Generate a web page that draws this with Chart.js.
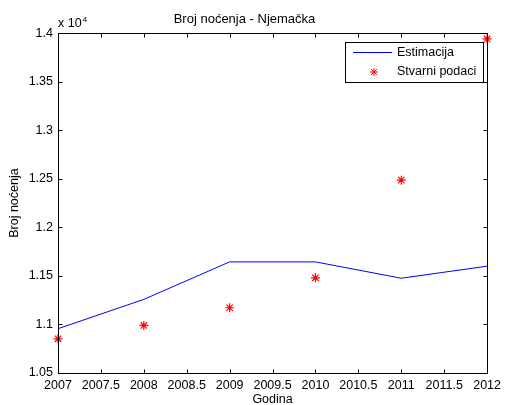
<!DOCTYPE html>
<html>
<head>
<meta charset="utf-8">
<script src="https://cdn.jsdelivr.net/npm/chart.js@4/dist/chart.umd.min.js"></script>
<style>
  body { margin: 0; background: #fff; }
  #wrap { width: 506px; height: 405px; }
</style>
</head>
<body>
<div id="wrap"><canvas id="chart" width="506" height="405"></canvas></div>
<script>
const years = [2007, 2008, 2009, 2010, 2011, 2012];
const estimacija = [10956, 11258, 11644, 11644, 11476, 11600];
const stvarni = [10852, 10990, 11172, 11480, 12486, 13940];
const xTicks = [2007, 2007.5, 2008, 2008.5, 2009, 2009.5, 2010, 2010.5, 2011, 2011.5, 2012];
const yTicks = [10500, 11000, 11500, 12000, 12500, 13000, 13500, 14000];

const FONT = "'Liberation Sans', Arial, sans-serif";
const FS = 12.5;

// MATLAB style box, inward ticks, exponent label and legend
const matlabAxes = {
  id: "matlabAxes",
  afterDraw(chart) {
    const ctx = chart.ctx;
    const a = chart.chartArea;
    const xs = chart.scales.x, ys = chart.scales.y;
    const L = Math.round(a.left) + 0.5, R = Math.round(a.right) + 0.5;
    const T = Math.round(a.top) + 0.5, B = Math.round(a.bottom) + 0.5;
    ctx.save();
    ctx.strokeStyle = "#000";
    ctx.lineWidth = 1;
    ctx.strokeRect(L, T, R - L, B - T);
    ctx.beginPath();
    xTicks.forEach(v => {
      const px = Math.round(xs.getPixelForValue(v)) + 0.5;
      ctx.moveTo(px, B); ctx.lineTo(px, B - 4);
      ctx.moveTo(px, T); ctx.lineTo(px, T + 4);
    });
    yTicks.forEach(v => {
      const py = Math.round(ys.getPixelForValue(v)) + 0.5;
      ctx.moveTo(L, py); ctx.lineTo(L + 4, py);
      ctx.moveTo(R, py); ctx.lineTo(R - 4, py);
    });
    ctx.stroke();

    // x 10^4
    ctx.fillStyle = "#000";
    ctx.textBaseline = "alphabetic";
    ctx.textAlign = "left";
    ctx.font = FS + "px " + FONT;
    ctx.fillText("x 10", 58, 27);
    const w = ctx.measureText("x 10").width;
    ctx.font = "8px " + FONT;
    ctx.fillText("4", 58 + w + 1, 22);

    // legend
    const bx = 345.5, by = 42.5, bw = 138, bh = 40;
    ctx.fillStyle = "#fff";
    ctx.fillRect(bx, by, bw, bh);
    ctx.strokeStyle = "#000";
    ctx.strokeRect(bx, by, bw, bh);
    ctx.font = FS + "px " + FONT;
    ctx.textBaseline = "middle";
    const ds = chart.data.datasets;
    ctx.strokeStyle = ds[0].borderColor;
    ctx.beginPath();
    ctx.moveTo(353, 52.5); ctx.lineTo(392, 52.5);
    ctx.stroke();
    ctx.fillStyle = "#000";
    ctx.fillText(ds[0].label, 397, 53);
    ctx.strokeStyle = ds[1].borderColor;
    ctx.fillStyle = ds[1].borderColor;
    Chart.helpers.drawPoint(ctx, { pointStyle: "star", radius: 4, borderWidth: 1, rotation: 0 }, 374, 72);
    ctx.fillStyle = "#000";
    ctx.fillText(ds[1].label, 397, 72);
    ctx.restore();
  }
};

new Chart(document.getElementById("chart"), {
  type: "line",
  data: {
    datasets: [
      {
        label: "Estimacija",
        data: years.map((y, i) => ({ x: y, y: estimacija[i] })),
        borderColor: "#0000ff",
        borderWidth: 1,
        pointRadius: 0,
        tension: 0,
        fill: false
      },
      {
        label: "Stvarni podaci",
        data: years.map((y, i) => ({ x: y, y: stvarni[i] })),
        showLine: false,
        borderColor: "#ff0000",
        backgroundColor: "#ff0000",
        pointStyle: "star",
        pointRadius: 4.5,
        pointBorderWidth: 1.2,
        clip: false
      }
    ]
  },
  options: {
    responsive: false,
    animation: false,
    layout: { padding: { top: 0, right: 17, left: 0, bottom: 0 } },
    plugins: {
      legend: { display: false },
      tooltip: { enabled: false },
      title: {
        display: true,
        text: "Broj noćenja - Njemačka",
        color: "#000",
        font: { family: FONT, size: 13, weight: "normal" },
        padding: { top: 12, bottom: 5.5 }
      }
    },
    scales: {
      x: {
        type: "linear",
        min: 2007,
        max: 2012,
        afterBuildTicks: s => { s.ticks = xTicks.map(v => ({ value: v })); },
        afterFit: s => { s.height = 32; },
        grid: { display: false, drawTicks: false },
        border: { display: false },
        ticks: {
          color: "#000",
          padding: 5,
          maxRotation: 0,
          autoSkip: false,
          font: { family: FONT, size: FS },
          callback: v => String(v)
        },
        title: {
          display: true,
          text: "Godina",
          color: "#000",
          font: { family: FONT, size: FS },
          padding: { top: 0, bottom: -2 }
        }
      },
      y: {
        min: 10500,
        max: 14000,
        afterBuildTicks: s => { s.ticks = yTicks.map(v => ({ value: v })); },
        afterFit: s => { s.width = 58; },
        grid: { display: false, drawTicks: false },
        border: { display: false },
        ticks: {
          color: "#000",
          padding: 5,
          autoSkip: false,
          font: { family: FONT, size: FS },
          callback: v => String(+(v / 1e4).toFixed(2))
        },
        title: {
          display: true,
          text: "Broj noćenja",
          color: "#000",
          font: { family: FONT, size: FS },
          padding: { top: 7, bottom: 0 }
        }
      }
    }
  },
  plugins: [matlabAxes]
});
</script>
</body>
</html>
